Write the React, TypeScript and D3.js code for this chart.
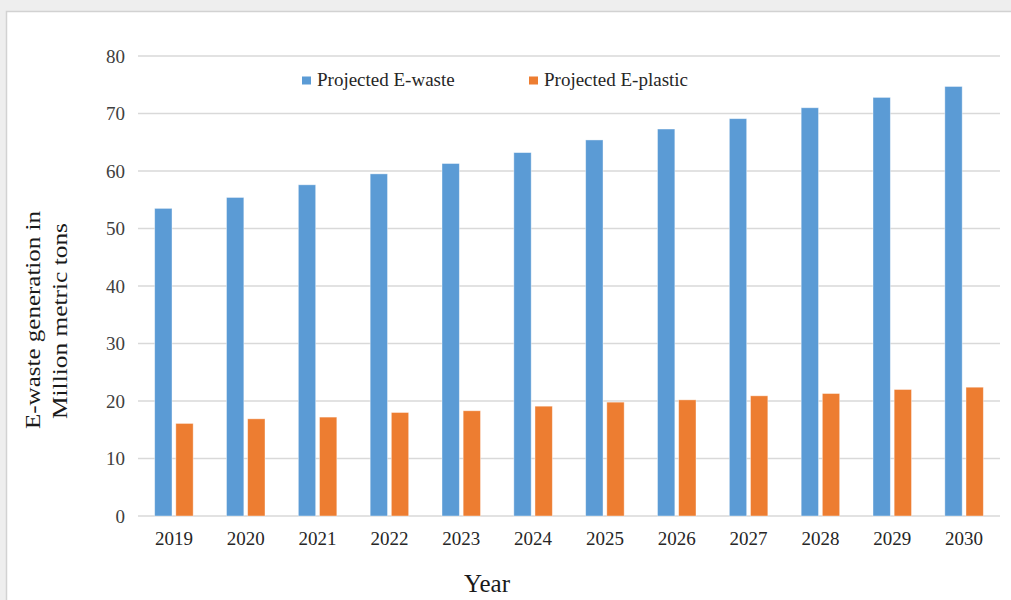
import React from "react";
import * as d3 from "d3";

const years = ["2019", "2020", "2021", "2022", "2023", "2024", "2025", "2026", "2027", "2028", "2029", "2030"];
const seriesNames = ["Projected E-waste", "Projected E-plastic"];
const eWaste = [53.5, 55.4, 57.6, 59.5, 61.3, 63.2, 65.4, 67.3, 69.1, 71.0, 72.8, 74.7];
const ePlastic = [16.1, 16.9, 17.2, 18.0, 18.3, 19.1, 19.8, 20.2, 20.9, 21.3, 22.0, 22.4];
const yTicks = [0, 10, 20, 30, 40, 50, 60, 70, 80];
const colors = ["#5B9BD5", "#ED7D31"];

const W = 1011;
const H = 600;
const plot = { left: 138, right: 1000, top: 56, bottom: 516 };
const FONT = "'Liberation Serif', 'Times New Roman', serif";

export default function App() {
  const x0 = d3.scaleBand<string>().domain(years).range([plot.left, plot.right]).padding(0);
  const bw = x0.bandwidth();
  const x1 = d3
    .scaleBand<string>()
    .domain(seriesNames)
    .range([bw / 2 - 19.25, bw / 2 + 19.25])
    .paddingInner(0.18)
    .paddingOuter(0);
  const y = d3.scaleLinear().domain([0, 80]).range([plot.bottom, plot.top]);
  const values = [eWaste, ePlastic];

  return (
    <svg
      width={W}
      height={H}
      style={{ position: "absolute", left: 0, top: 0, display: "block" }}
      fontFamily={FONT}
    >
      <rect x={0} y={0} width={W} height={H} fill="#eeeeee" />
      <rect x={6.5} y={11.5} width={W} height={H} fill="#ffffff" stroke="#d2d2d2" strokeWidth={1.5} />

      {/* horizontal gridlines */}
      {yTicks.map((t) => (
        <line
          key={"g" + t}
          x1={plot.left}
          x2={plot.right}
          y1={y(t)}
          y2={y(t)}
          stroke="#d9d9d9"
          strokeWidth={1.4}
        />
      ))}

      {/* y tick labels */}
      {yTicks.map((t) => (
        <text
          key={"yt" + t}
          x={125}
          y={y(t) + 6.5}
          textAnchor="end"
          fontSize={19}
          fill="#404040"
        >
          {t}
        </text>
      ))}

      {/* bars */}
      {years.map((yr, i) => (
        <g key={yr} transform={`translate(${x0(yr)},0)`}>
          {seriesNames.map((s, j) => (
            <rect
              key={s}
              x={x1(s)}
              y={y(values[j][i])}
              width={x1.bandwidth()}
              height={y(0) - y(values[j][i])}
              fill={colors[j]}
              stroke="#ffffff"
              strokeOpacity={0.5}
              strokeWidth={0.8}
            />
          ))}
        </g>
      ))}

      {/* x tick labels */}
      {years.map((yr) => (
        <text
          key={"xt" + yr}
          x={(x0(yr) as number) + bw / 2}
          y={545}
          textAnchor="middle"
          fontSize={19}
          fill="#262626"
        >
          {yr}
        </text>
      ))}

      {/* legend */}
      {seriesNames.map((s, j) => {
        const lx = j === 0 ? 302 : 529;
        return (
          <g key={"lg" + s}>
            <rect x={lx} y={76.5} width={9} height={8} fill={colors[j]} />
            <text x={lx + 15} y={86} fontSize={19} fill="#262626">
              {s}
            </text>
          </g>
        );
      })}

      {/* axis titles */}
      <text
        transform="translate(40,320) rotate(-90)"
        textAnchor="middle"
        fontSize={22}
        textLength={218}
        lengthAdjust="spacingAndGlyphs"
        fill="#1a1a1a"
      >
        E-waste generation in
      </text>
      <text
        transform="translate(67,321) rotate(-90)"
        textAnchor="middle"
        fontSize={22}
        textLength={196}
        lengthAdjust="spacingAndGlyphs"
        fill="#1a1a1a"
      >
        Million metric tons
      </text>
      <text x={487} y={592} textAnchor="middle" fontSize={25} fill="#1a1a1a">
        Year
      </text>
    </svg>
  );
}
